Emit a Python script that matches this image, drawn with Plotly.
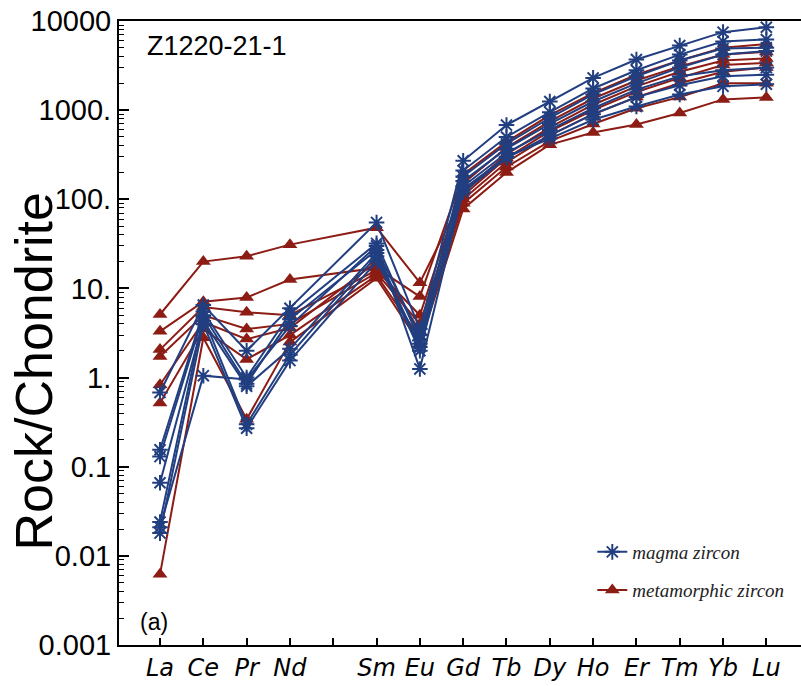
import plotly.graph_objects as go

# Chondrite-normalised REE patterns of zircon (sample Z1220-21-1)
elements = ["La", "Ce", "Pr", "Nd", "Sm", "Eu", "Gd", "Tb", "Dy", "Ho", "Er", "Tm", "Yb", "Lu"]
tick_labels = ["La", "Ce", "Pr", "Nd", "", "Sm", "Eu", "Gd", "Tb", "Dy", "Ho", "Er", "Tm", "Yb", "Lu"]
x_pos = [1, 2, 3, 4, 6, 7, 8, 9, 10, 11, 12, 13, 14, 15]  # Pm slot (5) left empty

magma_1 = [0.68, 6.5, 2.0, 6.0, 55, 3.5, 270, 680, 1250, 2300, 3700, 5300, 7500, 8500]
magma_2 = [0.155, 5.5, 1.0, 5.2, 32, 2.6, 210, 500, 950, 1750, 2800, 4200, 5900, 6200]
magma_3 = [0.13, 5.0, 0.85, 4.5, 27, 3.0, 180, 420, 820, 1500, 2400, 3600, 4900, 5000]
magma_4 = [0.066, 4.3, 0.8, 2.1, 25, 2.2, 160, 370, 700, 1250, 2000, 3000, 4200, 4600]
magma_5 = [0.024, 4.8, 0.3, 1.8, 23, 2.0, 140, 330, 600, 1050, 1700, 2400, 2800, 3000]
magma_6 = [0.018, 4.0, 0.27, 1.55, 20, 2.4, 120, 290, 520, 900, 1400, 1900, 2400, 2500]
magma_7 = [0.021, 1.05, 0.95, 3.8, 30, 1.25, 130, 300, 480, 780, 1100, 1500, 1850, 1950]

meta_1 = [5.1, 20, 23, 31, 48, 11.6, 110, 290, 580, 1000, 1600, 2300, 3200, 3400]
meta_2 = [3.3, 7.1, 7.9, 12.6, 17, 8.1, 190, 440, 880, 1550, 2500, 3600, 5000, 5500]
meta_3 = [2.06, 6.2, 5.4, 5.0, 16, 5.0, 150, 380, 750, 1350, 2150, 3100, 4200, 4500]
meta_4 = [1.72, 5.0, 3.5, 4.0, 15, 4.0, 120, 320, 640, 1150, 1850, 2700, 3600, 3800]
meta_5 = [0.83, 4.2, 2.7, 3.6, 20, 3.3, 100, 260, 520, 900, 1400, 2000, 2700, 3000]
meta_6 = [0.52, 3.5, 1.6, 3.0, 14, 2.8, 90, 230, 450, 700, 1050, 1400, 2000, 2000]
meta_7 = [0.0062, 2.8, 0.34, 2.5, 13, 2.4, 78, 200, 410, 560, 690, 930, 1320, 1390]

magma_series = [magma_1, magma_2, magma_3, magma_4, magma_5, magma_6, magma_7]
meta_series = [meta_1, meta_2, meta_3, meta_4, meta_5, meta_6, meta_7]

BLUE = "#213f80"
RED = "#8c1c14"

fig = go.Figure()

for i, vals in enumerate(meta_series):
    fig.add_trace(go.Scatter(
        x=x_pos, y=vals, mode="lines+markers",
        line=dict(color=RED, width=2),
        marker=dict(symbol="triangle-up", size=13, color=RED),
        name="<i>metamorphic zircon</i>", legendgroup="meta",
        legend="legend2", showlegend=(i == 0),
    ))

for i, vals in enumerate(magma_series):
    fig.add_trace(go.Scatter(
        x=x_pos, y=vals, mode="lines+markers",
        line=dict(color=BLUE, width=2),
        marker=dict(symbol="asterisk-open", size=13, color=BLUE,
                    line=dict(color=BLUE, width=2)),
        name="<i>magma zircon</i>", legendgroup="magma",
        legend="legend", showlegend=(i == 0),
    ))

legend_font = dict(family="Liberation Serif, Times New Roman, serif", size=19, color="#222")

fig.update_layout(
    width=801, height=686,
    margin=dict(l=119, r=0, t=21, b=41),
    paper_bgcolor="white", plot_bgcolor="white",
    legend=dict(x=0.694, y=0.149, xanchor="left", yanchor="middle",
                font=legend_font, bgcolor="rgba(0,0,0,0)"),
    legend2=dict(x=0.694, y=0.088, xanchor="left", yanchor="middle",
                 font=legend_font, bgcolor="rgba(0,0,0,0)"),
    xaxis=dict(
        range=[0.053, 15.8], automargin=False,
        tickmode="array", tickvals=list(range(1, 16)), ticktext=tick_labels,
        ticks="inside", ticklen=7, tickwidth=2, tickcolor="black",
        showline=True, linecolor="black", linewidth=2, mirror=True,
        showgrid=False, zeroline=False,
        tickfont=dict(family="DejaVu Sans", size=24, color="black", style="italic"),
    ),
    yaxis=dict(
        type="log", range=[-3, 4], automargin=False,
        tickmode="array",
        tickvals=[0.001, 0.01, 0.1, 1, 10, 100, 1000, 10000],
        ticktext=["0.001", "0.01", "0.1", "1.", "10.", "100.", "1000.", "10000"],
        ticks="inside", ticklen=10, tickwidth=2, tickcolor="black",
        minor=dict(ticks="inside", ticklen=5, tickwidth=1, tickcolor="black", dtick="D1"),
        showline=True, linecolor="black", linewidth=2,
        showgrid=False, zeroline=False,
        tickfont=dict(family="Liberation Sans, Arial", size=29, color="black"),
    ),
    annotations=[
        dict(text="Rock/Chondrite", xref="paper", yref="paper",
             x=-0.124, y=0.439, xanchor="center", yanchor="middle",
             textangle=-90, showarrow=False,
             font=dict(family="Liberation Sans, Arial", size=52, color="black")),
        dict(text="Z1220-21-1", xref="paper", yref="paper", x=0.038, y=0.96,
             xanchor="left", yanchor="middle", showarrow=False,
             font=dict(family="Liberation Sans, Arial", size=27, color="black")),
        dict(text="(a)", xref="paper", yref="paper", x=0.028, y=0.037,
             xanchor="left", yanchor="middle", showarrow=False,
             font=dict(family="Liberation Sans, Arial", size=23, color="black")),
    ],
)

fig.write_html("out.html")
